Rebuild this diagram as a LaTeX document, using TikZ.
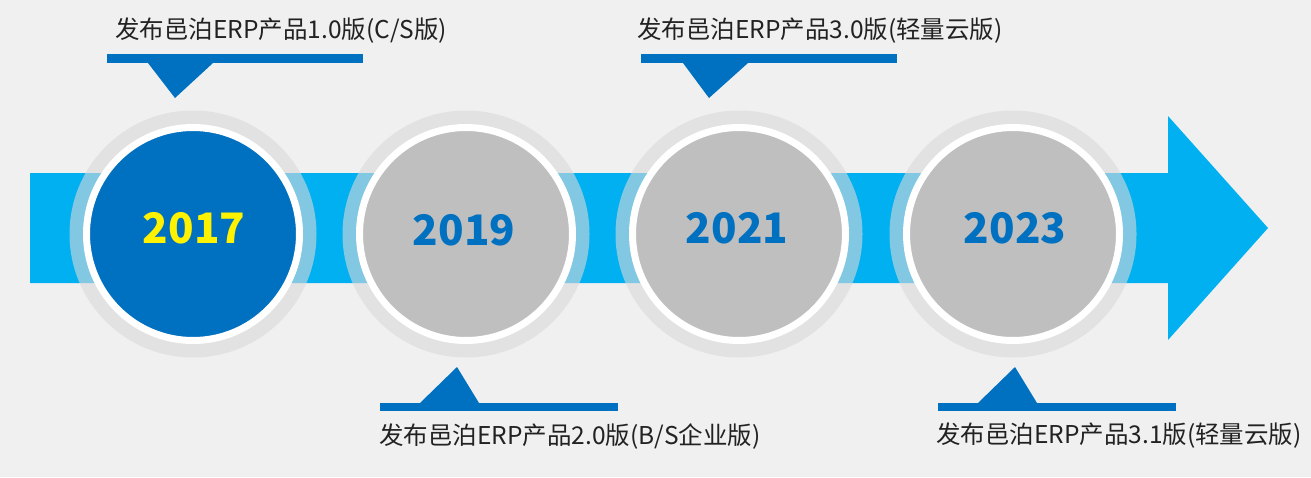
\documentclass[tikz,border=0pt]{standalone}
\usepackage{fontspec}
\setmainfont{Noto Sans CJK SC}
\definecolor{bgGray}{HTML}{F0F0F0}
\definecolor{erpBlue}{HTML}{0070C0}
\definecolor{bandBlue}{HTML}{00B0F0}
\definecolor{ringGray}{HTML}{D9D9D9}
\definecolor{discGray}{HTML}{BFBFBF}
\definecolor{noteText}{HTML}{222222}
\begin{document}
\begin{tikzpicture}[x=1pt,y=-1pt,
		ring/.style={circle, fill=ringGray, fill opacity=0.6, minimum size=247pt, inner sep=0pt},
		disc/.style={circle, draw=white, line width=7pt, minimum size=213pt, inner sep=0pt},
		year/.style={font=\fontsize{42}{42}\selectfont\bfseries, inner sep=0pt},
		note/.style={font=\fontsize{24.5}{24.5}\selectfont, text=noteText, inner sep=0pt, anchor=west}]
		\fill [bgGray] (0,0) rectangle (1311,477);
		% band with arrow head
		\fill [bandBlue] (30,173)--(1168,173)--(1168,116)--(1268,228)--(1168,340)--(1168,283)--(30,283)--cycle;
		% year discs
		\node [ring] (r1) at (193,234) {};
		\node [ring] (r2) at (466,234) {};
		\node [ring] (r3) at (739,234) {};
		\node [ring] (r4) at (1013,234) {};
		\node [disc, fill=erpBlue]  (d1) at (193,234) {};
		\node [disc, fill=discGray] (d2) at (466,234) {};
		\node [disc, fill=discGray] (d3) at (739,234) {};
		\node [disc, fill=discGray] (d4) at (1013,234) {};
		\node [year, text=yellow]  (y1) at (194,228) {2017};
		\node [year, text=erpBlue] (y2) at (464,230) {2019};
		\node [year, text=erpBlue] (y3) at (737,228) {2021};
		\node [year, text=erpBlue] (y4) at (1015,228) {2023};
		% callouts above
		\fill [erpBlue] (107,54) rectangle (363,63);
		\fill [erpBlue] (148,63)--(213,63)--(175,98)--cycle;
		\fill [erpBlue] (641,54) rectangle (897,63);
		\fill [erpBlue] (683,63)--(748,63)--(709,98)--cycle;
		% callouts below
		\fill [erpBlue] (380,403) rectangle (618,411);
		\fill [erpBlue] (420,403)--(479,403)--(457,367)--cycle;
		\fill [erpBlue] (938,403) rectangle (1176,411);
		\fill [erpBlue] (978,403)--(1037,403)--(1015,367)--cycle;
		% texts
		\node [note] (t1) at (115,31) {发布邑泊ERP产品1.0版(C/S版)};
		\node [note] (t2) at (379,436) {发布邑泊ERP产品2.0版(B/S企业版)};
		\node [note] (t3) at (637,31) {发布邑泊ERP产品3.0版(轻量云版)};
		\node [note] (t4) at (936,436) {发布邑泊ERP产品3.1版(轻量云版)};
	\end{tikzpicture}
\end{document}
